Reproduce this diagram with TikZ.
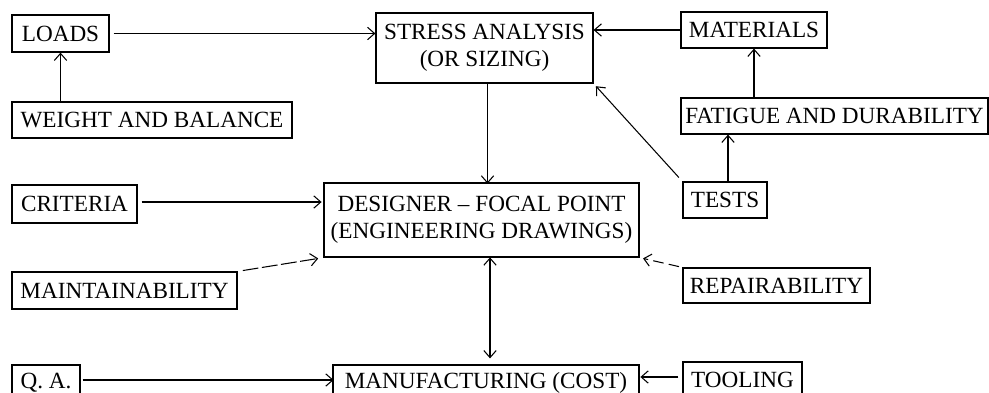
\documentclass[tikz,border=0pt]{standalone}
\usepackage{fontspec}
\setmainfont{Liberation Serif}
\usetikzlibrary{arrows.meta}

\begin{document}
\begin{tikzpicture}[x=0.02cm,y=-0.02cm,
  box/.style={draw,line width=0.7pt,inner sep=0pt,align=center,
    font=\fontsize{13.2}{15.5}\selectfont},
  arr/.style={line width=0.6pt,-{Straight Barb[length=4pt,width=7pt]}},
  brk/.style={arr,dash pattern=on 9pt off 2pt}]
\useasboundingbox (0,0) rectangle (989,392);
\clip (0,0) rectangle (989,392);
% boxes
\node[box,minimum width=1.94cm,minimum height=0.74cm] (loads) at (60.5,33.5) {LOADS};
\node[box,minimum width=5.6cm,minimum height=0.72cm] (weight) at (152,120) {WEIGHT AND BALANCE};
\node[box,minimum width=4.34cm,minimum height=1.4cm] (stress) at (484.5,48) {STRESS ANALYSIS\\(OR SIZING)};
\node[box,minimum width=2.92cm,minimum height=0.72cm] (materials) at (754,30) {MATERIALS};
\node[box,minimum width=6.14cm,minimum height=0.72cm] (fatigue) at (834.5,116) {FATIGUE AND DURABILITY};
\node[box,minimum width=2.5cm,minimum height=0.76cm] (criteria) at (74.5,204) {CRITERIA};
\node[box,minimum width=6.3cm,minimum height=1.48cm] (designer) at (481.5,220) {DESIGNER -- FOCAL POINT\\(ENGINEERING DRAWINGS)};
\node[box,minimum width=1.68cm,minimum height=0.72cm] (tests) at (725,200) {TESTS};
\node[box,minimum width=4.5cm,minimum height=0.74cm] (maint) at (124.5,290.5) {MAINTAINABILITY};
\node[box,minimum width=3.74cm,minimum height=0.7cm] (repair) at (776.5,285.5) {REPAIRABILITY};
\node[box,minimum width=1.36cm,minimum height=0.72cm] (qa) at (46,383) {Q. A.};
\node[box,minimum width=6.12cm,minimum height=0.72cm] (manuf) at (486,383) {MANUFACTURING (COST)};
\node[box,minimum width=2.38cm,minimum height=0.72cm] (tooling) at (742.5,380) {TOOLING};
% connectors
\draw[arr] (weight.north -| loads.south) -- (loads.south);
\draw[arr] (loads.east) ++(4,0) -- (loads.east -| stress.west);
\draw[arr] (materials.west) -- (materials.west -| stress.east);
\draw[arr] (fatigue.north -| materials.south) -- (materials.south);
\coordinate (t1) at ([xshift=0.06cm]tests.north);
\draw[arr] (t1) -- (t1 |- fatigue.south);
\draw[arr,shorten <=3pt,shorten >=2pt] (tests.north west) -- (stress.south east);
\draw[arr] (stress.south) ++(3,0) -- ++(0,100);
\draw[arr] (criteria.east) ++(4,-2) -- ++(180,0);
\draw[brk,shorten <=3pt,shorten >=3pt] (maint.north east) -- (designer.south west);
\draw[line width=0.6pt,{Straight Barb[length=4pt,width=7pt]}-{Straight Barb[length=4pt,width=7pt]}]
  (manuf.north) ++(4,-6) -- ++(0,-101);
\draw[arr] (qa.east) ++(2,-3) -- ++(251,0);
\draw[arr] (tooling.west) ++(-4,-3) -- ++(-38,0);
\draw[brk,dash pattern=on 6pt off 3pt,shorten <=2pt,shorten >=2pt] (repair.north west) -- (designer.south east);
\end{tikzpicture}
\end{document}
